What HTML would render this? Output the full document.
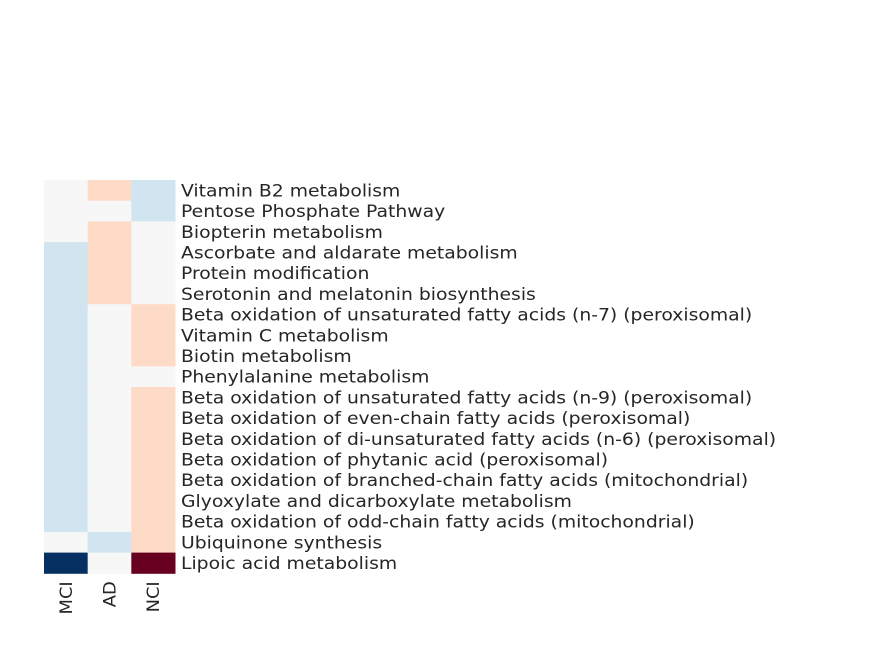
<!DOCTYPE html>
<html><head><meta charset="utf-8"><style>
html,body{margin:0;padding:0;background:#fff;}
svg text{font-family:"DejaVu Sans","Liberation Sans",sans-serif;font-size:16.7px;fill:#262626;}
</style></head><body>
<svg id="chart" width="875" height="656" xmlns="http://www.w3.org/2000/svg"></svg>
<script>
const columns = ["MCI","AD","NCI"];
const rows = ["Vitamin B2 metabolism","Pentose Phosphate Pathway","Biopterin metabolism","Ascorbate and aldarate metabolism","Protein modification","Serotonin and melatonin biosynthesis","Beta oxidation of unsaturated fatty acids (n-7) (peroxisomal)","Vitamin C metabolism","Biotin metabolism","Phenylalanine metabolism","Beta oxidation of unsaturated fatty acids (n-9) (peroxisomal)","Beta oxidation of even-chain fatty acids (peroxisomal)","Beta oxidation of di-unsaturated fatty acids (n-6) (peroxisomal)","Beta oxidation of phytanic acid (peroxisomal)","Beta oxidation of branched-chain fatty acids (mitochondrial)","Glyoxylate and dicarboxylate metabolism","Beta oxidation of odd-chain fatty acids (mitochondrial)","Ubiquinone synthesis","Lipoic acid metabolism"];
const mciValues = [0,0,0,-1,-1,-1,-1,-1,-1,-1,-1,-1,-1,-1,-1,-1,-1,0,-3];
const adValues  = [1,0,1,1,1,1,0,0,0,0,0,0,0,0,0,0,0,-1,0];
const nciValues = [-1,-1,0,0,0,0,1,1,1,0,1,1,1,1,1,1,1,1,3];
const series = [mciValues, adValues, nciValues];

const svg = document.getElementById('chart');
const NS = "http://www.w3.org/2000/svg";
const x0 = 44, x1 = 175, y0 = 180, y1 = 573.3;
const cw = (x1 - x0) / columns.length, rh = (y1 - y0) / rows.length;
const xPos = i => x0 + i * cw;
const yPos = j => y0 + j * rh;
const SX = 1.125;
function color(v){
  if (v <= -2) return "#053061";
  if (v < 0) return "#d1e5f0";
  if (v === 0) return "#f7f7f7";
  if (v < 2) return "#fddbc7";
  return "#67001f";
}
series.forEach((vals, i) => {
  vals.forEach((v, j) => {
    const r = document.createElementNS(NS, 'rect');
    r.setAttribute('x', xPos(i));
    r.setAttribute('y', yPos(j));
    r.setAttribute('width', cw + 0.5);
    r.setAttribute('height', rh + 0.5);
    r.setAttribute('fill', color(v));
    
    
    svg.appendChild(r);
  });
});
rows.forEach((name, j) => {
  const t = document.createElementNS(NS, 'text');
  t.setAttribute('transform', `translate(${x1 + 6},${yPos(j) + rh / 2 + 6}) scale(${SX},1)`);
  t.textContent = name;
  
  
  svg.appendChild(t);
});
columns.forEach((name, i) => {
  const cx = xPos(i) + cw / 2 + 6;
  const t = document.createElementNS(NS, 'text');
  t.setAttribute('transform', `translate(${cx},${y1 + 8}) rotate(-90) scale(1.07,1)`);
  t.setAttribute('text-anchor', 'end');
  t.textContent = name;
  
  
  svg.appendChild(t);
});
</script>
</body></html>
